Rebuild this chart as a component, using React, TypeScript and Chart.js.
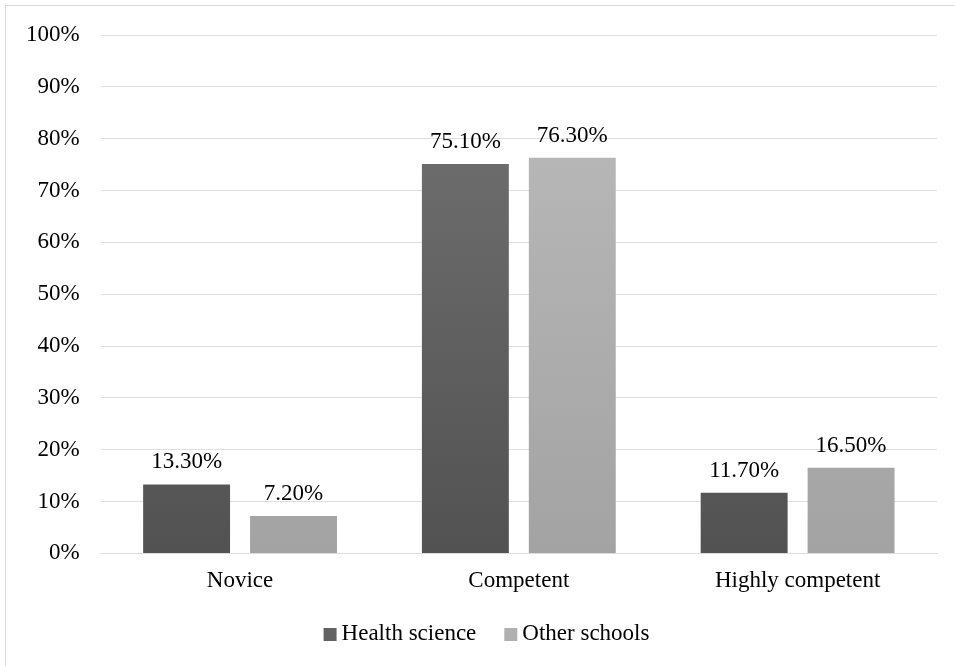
import React, { useEffect, useRef } from "react";
import { Chart, registerables } from "chart.js";

Chart.register(...registerables);

const categories = ["Novice", "Competent", "Highly competent"];
const healthScience = [13.3, 75.1, 11.7];
const otherSchools = [7.2, 76.3, 16.5];
const seriesNames = ["Health science", "Other schools"];
const legendColors = ["#626262", "#b0b0b0"];

const FONT = "'Liberation Serif', 'Times New Roman', serif";
const FS = 23;

function gradient(ctx: any, top: string, bottom: string) {
  const chart = ctx.chart;
  const area = chart.chartArea;
  if (!area) return bottom;
  const el = ctx.element;
  const y0 = el && typeof el.y === "number" ? el.y : area.top;
  const y1 = el && typeof el.base === "number" ? el.base : area.bottom;
  if (!isFinite(y0) || !isFinite(y1) || y0 === y1) return bottom;
  const g = chart.ctx.createLinearGradient(0, y0, 0, y1);
  g.addColorStop(0, top);
  g.addColorStop(1, bottom);
  return g;
}

const labelPlugin = {
  id: "valueLabels",
  afterDatasetsDraw(chart: any) {
    const c = chart.ctx;
    c.save();
    c.font = `${FS}px ${FONT}`;
    c.fillStyle = "#000";
    c.textAlign = "center";
    c.textBaseline = "alphabetic";
    chart.data.datasets.forEach((ds: any, i: number) => {
      const meta = chart.getDatasetMeta(i);
      meta.data.forEach((bar: any, j: number) => {
        c.fillText(ds.data[j].toFixed(2) + "%", bar.x, bar.y - 16);
      });
    });
    c.restore();
  },
};

const legendPlugin = {
  id: "customLegend",
  afterDraw(chart: any) {
    const c = chart.ctx;
    c.save();
    c.font = `${FS}px ${FONT}`;
    c.textBaseline = "middle";
    c.textAlign = "left";
    const box = 13;
    const gap = 5;
    const itemGap = 28;
    const widths = seriesNames.map((n) => box + gap + c.measureText(n).width);
    const total = widths.reduce((a, b) => a + b, 0) + itemGap * (seriesNames.length - 1);
    let x = chart.width / 2 + 9 - total / 2;
    const y = 634;
    seriesNames.forEach((n, i) => {
      c.fillStyle = legendColors[i];
      c.fillRect(x, y - 6, box, box);
      c.fillStyle = "#000";
      c.fillText(n, x + box + gap, y);
      x += widths[i] + itemGap;
    });
    c.restore();
  },
};

const borderPlugin = {
  id: "outerBorder",
  beforeDraw(chart: any) {
    const c = chart.ctx;
    c.save();
    c.fillStyle = "#fff";
    c.fillRect(0, 0, chart.width, chart.height);
    c.strokeStyle = "#d9d9d9";
    c.lineWidth = 1;
    c.strokeRect(5.5, 5.5, chart.width + 10, chart.height + 10);
    c.restore();
  },
};

export default function App() {
  const ref = useRef<HTMLCanvasElement>(null);
  useEffect(() => {
    const chart = new Chart(ref.current!, {
      type: "bar",
      data: {
        labels: categories,
        datasets: [
          {
            label: seriesNames[0],
            data: healthScience,
            backgroundColor: (ctx: any) => gradient(ctx, "#747474", "#525252"),
            borderWidth: 0,
          },
          {
            label: seriesNames[1],
            data: otherSchools,
            backgroundColor: (ctx: any) => gradient(ctx, "#bcbcbc", "#a3a3a3"),
            borderWidth: 0,
          },
        ],
      },
      options: {
        animation: false,
        responsive: false,
        devicePixelRatio: 1,
        categoryPercentage: 0.767,
        barPercentage: 0.813,
        layout: { padding: { left: 5, right: 18, top: 35, bottom: 57 } },
        scales: {
          x: {
            grid: { display: false, drawTicks: false },
            border: { display: true, color: "#d9dce1", width: 1 },
            ticks: { color: "#000", font: { family: FONT, size: FS }, padding: 14 },
          },
          y: {
            min: 0,
            max: 100,
            grid: { color: "#dcdfe4", drawTicks: false },
            border: { display: false },
            ticks: {
              stepSize: 10,
              color: "#000",
              font: { family: FONT, size: FS },
              padding: 21,
              callback: (v: any) => v + "%",
            },
          },
        },
        plugins: {
          legend: { display: false },
          tooltip: { enabled: false },
        },
      },
      plugins: [labelPlugin, legendPlugin, borderPlugin],
    });
    return () => chart.destroy();
  }, []);
  return (
    <div style={{ position: "absolute", left: 0, top: 0, width: 955, height: 666 }}>
      <canvas ref={ref} width={955} height={666} style={{ display: "block" }} />
    </div>
  );
}
